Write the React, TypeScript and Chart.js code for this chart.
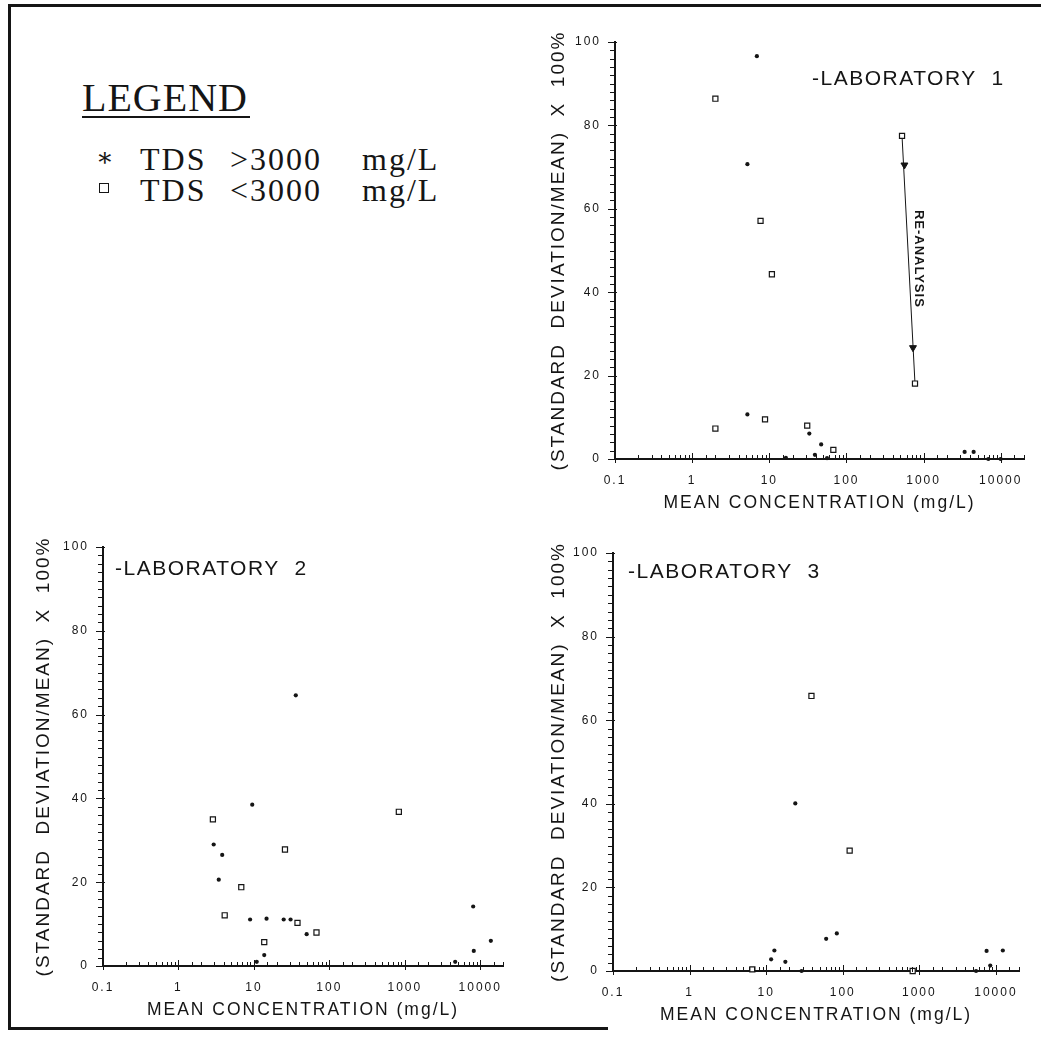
import React, { useEffect, useRef } from 'react';
import { Chart, registerables } from 'chart.js';

Chart.register(...registerables);

// ---------- DATA ----------
// Laboratory 1
const lab1StarX = [6.9, 5.2, 5.2, 33, 47, 39, 16.4, 56, 3400, 4450, 6900, 9950];
const lab1StarY = [96.6, 70.7, 10.7, 6.1, 3.5, 1.0, 0.3, 0.2, 1.7, 1.7, 0, 0];
const lab1SquareX = [2.0, 7.7, 10.8, 2.0, 8.8, 31, 67.6, 525, 773];
const lab1SquareY = [86.4, 57.1, 44.3, 7.3, 9.5, 8.0, 2.2, 77.5, 18.1];
const lab1ReanalysisX = [525, 773];
const lab1ReanalysisY = [77.5, 18.1];
const lab1ArrowX = [564, 728];
const lab1ArrowY = [70.5, 26.7];
const lab1ReanalysisLabel = { x: 860, y: 48, text: 'RE-ANALYSIS' };

// Laboratory 2
const lab2StarX = [9.5, 2.93, 3.8, 3.42, 8.9, 14.7, 24.8, 30.6, 50, 13.7, 10.9, 8050, 8200, 4650, 13800, 35.9];
const lab2StarY = [38.5, 29, 26.5, 20.6, 11.1, 11.3, 11.1, 11.1, 7.6, 2.6, 1.0, 14.2, 3.6, 1.0, 6.0, 64.6];
const lab2SquareX = [6.8, 4.1, 67.5, 833, 2.86, 25.8, 37.8, 13.7];
const lab2SquareY = [18.8, 12.1, 8.0, 36.8, 35, 27.8, 10.3, 5.7];

// Laboratory 3
const lab3StarX = [24, 60.7, 83.6, 12.8, 11.6, 17.8, 29, 7550, 12300, 8430, 5500];
const lab3StarY = [40.1, 7.7, 9.0, 4.9, 2.8, 2.2, 0, 4.8, 4.9, 1.3, 0];
const lab3SquareX = [123, 6.6, 818, 39];
const lab3SquareY = [28.8, 0.4, 0, 65.8];

// Axes
const xMin = 0.1;
const xMax = 20000;
const yMin = 0;
const yMax = 100;
const yStep = 2;
const yLabelEvery = 20;
const xTitle = 'MEAN CONCENTRATION (mg/L)';
const yTitle = '(STANDARD  DEVIATION/MEAN)  X  100%';
const legendTitle = 'LEGEND';
const legendItems = ['TDS >3000 mg/L', 'TDS <3000 mg/L'];

const INK = '#151515';
const SANS = '"Liberation Sans", Arial, sans-serif';
const SERIF = '"Liberation Serif", "DejaVu Serif", serif';
const LS = '2px';

function pts(xs: number[], ys: number[]) {
  return xs.map((x, i) => ({ x, y: ys[i] }));
}

function isPow10(v: number) {
  const l = Math.log10(v);
  return Math.abs(l - Math.round(l)) < 1e-6;
}

type LabProps = {
  left: number;
  top: number;
  width: number;
  height: number;
  padTop: number;
  padRight: number;
  yWidth: number;
  xHeight: number;
  yTitlePad: number;
  title: string;
  titleDx: number;
  titleDy: number;
  starX: number[];
  starY: number[];
  squareX: number[];
  squareY: number[];
  reX?: number[];
  reY?: number[];
  arrowX?: number[];
  arrowY?: number[];
  reLabel?: { x: number; y: number; text: string };
};

function LabChart(p: LabProps) {
  const ref = useRef<HTMLCanvasElement>(null);
  useEffect(() => {
    const canvas = ref.current!;
    const datasets: any[] = [
      {
        label: legendItems[0],
        data: pts(p.starX, p.starY),
        pointStyle: 'circle',
        pointRadius: 2.1,
        backgroundColor: INK,
        borderColor: INK,
        borderWidth: 0,
        clip: false,
      },
      {
        label: legendItems[1],
        data: pts(p.squareX, p.squareY),
        pointStyle: 'rect',
        pointRadius: 3.6,
        backgroundColor: '#ffffff',
        borderColor: INK,
        borderWidth: 1.2,
        clip: false,
      },
    ];
    if (p.arrowX && p.arrowY) {
      datasets.push({
        label: 'arrows',
        data: pts(p.arrowX, p.arrowY),
        pointStyle: 'triangle',
        rotation: 180,
        pointRadius: 4,
        backgroundColor: INK,
        borderColor: INK,
        borderWidth: 1,
        clip: false,
      });
    }
    if (p.reX && p.reY) {
      datasets.push({
        type: 'line',
        label: 'reanalysis',
        data: pts(p.reX, p.reY),
        showLine: true,
        borderColor: INK,
        borderWidth: 1,
        pointRadius: 0,
        fill: false,
        clip: false,
      });
    }

    const spacing = {
      id: 'spacing',
      beforeUpdate(c: any) {
        c.ctx.letterSpacing = LS;
      },
      beforeLayout(c: any) {
        c.ctx.letterSpacing = LS;
      },
      beforeDraw(c: any) {
        c.ctx.letterSpacing = LS;
      },
    };

    const tickMarks = {
      id: 'tickMarks',
      afterDraw(c: any) {
        const { ctx, scales, chartArea } = c;
        ctx.save();
        ctx.strokeStyle = INK;
        ctx.lineWidth = 1;
        ctx.beginPath();
        for (const t of scales.y.ticks) {
          const y = Math.round(scales.y.getPixelForValue(t.value)) + 0.5;
          const major = t.value % yLabelEvery === 0;
          ctx.moveTo(chartArea.left - (major ? 7 : 5), y);
          ctx.lineTo(chartArea.left + (major ? 2 : 0), y);
        }
        for (const t of scales.x.ticks) {
          const x = Math.round(scales.x.getPixelForValue(t.value)) + 0.5;
          const major = isPow10(t.value);
          ctx.moveTo(x, chartArea.bottom + (major ? 4 : 1));
          ctx.lineTo(x, chartArea.bottom - (major ? 6 : 4));
        }
        ctx.stroke();
        ctx.restore();
      },
    };

    const decor = {
      id: 'decor',
      afterDraw(c: any) {
        const { ctx, chartArea, scales } = c;
        ctx.save();
        ctx.fillStyle = INK;
        ctx.letterSpacing = '1.5px';
        ctx.font = `21px ${SANS}`;
        ctx.textBaseline = 'middle';
        ctx.textAlign = 'left';
        ctx.fillText(p.title, chartArea.left + p.titleDx, chartArea.top + p.titleDy);
        if (p.reLabel) {
          const x = scales.x.getPixelForValue(p.reLabel.x);
          const y = scales.y.getPixelForValue(p.reLabel.y);
          ctx.translate(x, y);
          ctx.rotate(Math.PI / 2);
          ctx.font = `bold 13px ${SANS}`;
          ctx.letterSpacing = '1px';
          ctx.textAlign = 'center';
          ctx.textBaseline = 'middle';
          ctx.fillText(p.reLabel.text, 0, 0);
        }
        ctx.restore();
      },
    };

    const chart = new Chart(canvas, {
      type: 'scatter',
      data: { datasets },
      options: {
        animation: false,
        responsive: false,
        maintainAspectRatio: false,
        layout: { padding: { top: p.padTop, right: p.padRight, left: 0, bottom: 0 } },
        plugins: {
          legend: { display: false },
          tooltip: { enabled: false },
        },
        scales: {
          x: {
            type: 'logarithmic',
            position: 'bottom',
            min: xMin,
            max: xMax,
            afterFit(s: any) {
              s.height = p.xHeight;
            },
            ticks: {
              autoSkip: false,
              maxRotation: 0,
              minRotation: 0,
              padding: 14,
              color: INK,
              font: { size: 12, family: SANS },
              callback: (v: any) => {
                const n = Number(v);
                if (!isPow10(n)) return '';
                return n >= 1 ? String(Math.round(n)) : String(n);
              },
            },
            grid: { display: false, drawTicks: false, tickLength: 0 },
            border: { display: true, color: INK, width: 2 },
            title: {
              display: true,
              text: xTitle,
              color: INK,
              font: { size: 17.5, family: SANS },
              padding: { top: 0, bottom: 0 },
            },
          },
          y: {
            type: 'linear',
            position: 'left',
            min: yMin,
            max: yMax,
            afterFit(s: any) {
              s.width = p.yWidth;
            },
            ticks: {
              stepSize: yStep,
              autoSkip: false,
              padding: 14,
              color: INK,
              font: { size: 12, family: SANS },
              callback: (v: any) => (Number(v) % yLabelEvery === 0 ? String(v) : ''),
            },
            grid: { display: false, drawTicks: false, tickLength: 0 },
            border: { display: true, color: INK, width: 2 },
            title: {
              display: true,
              text: yTitle,
              color: INK,
              font: { size: 19, family: SANS },
              padding: { top: p.yTitlePad, bottom: 0 },
            },
          },
        },
      } as any,
      plugins: [spacing, tickMarks, decor],
    });
    return () => chart.destroy();
  }, []);
  return (
    <canvas
      ref={ref}
      width={p.width}
      height={p.height}
      style={{ position: 'absolute', left: p.left, top: p.top, width: p.width, height: p.height }}
    />
  );
}

export default function App() {
  return (
    <div
      style={{
        position: 'absolute',
        left: 0,
        top: 0,
        width: 1041,
        height: 1050,
        background: '#ffffff',
        overflow: 'hidden',
      }}
    >
      {/* frame */}
      <div style={{ position: 'absolute', left: 8, top: 4, width: 1040, height: 3, background: INK }} />
      <div style={{ position: 'absolute', left: 8, top: 4, width: 3, height: 1026, background: INK }} />
      <div style={{ position: 'absolute', left: 8, top: 1027, width: 600, height: 3, background: INK }} />

      {/* legend */}
      <div
        style={{
          position: 'absolute',
          left: 82,
          top: 78,
          font: `40px ${SERIF}`,
          lineHeight: '40px',
          letterSpacing: '1px',
          color: INK,
          whiteSpace: 'pre',
        }}
      >
        {legendTitle}
      </div>
      <div style={{ position: 'absolute', left: 82, top: 116, width: 168, height: 2, background: INK }} />
      <div
        style={{
          position: 'absolute',
          left: 96,
          top: 145,
          font: `26px ${SERIF}`,
          lineHeight: '26px',
          color: INK,
        }}
      >
        ∗
      </div>
      <div
        style={{
          position: 'absolute',
          left: 99,
          top: 183,
          width: 8,
          height: 8,
          border: `1.3px solid ${INK}`,
        }}
      />
      {legendItems.map((t, i) => {
        const parts = t.split(' ');
        const xs = [140, 230, 362];
        return parts.map((w, j) => (
          <div
            key={`${i}-${j}`}
            style={{
              position: 'absolute',
              left: xs[j],
              top: 143 + i * 31,
              font: `32px ${SERIF}`,
              lineHeight: '32px',
              letterSpacing: '2px',
              color: INK,
              whiteSpace: 'pre',
            }}
          >
            {w}
          </div>
        ));
      })}

      <LabChart
        left={520}
        top={20}
        width={518}
        height={494}
        padTop={22}
        padRight={12}
        yWidth={95}
        xHeight={55}
        yTitlePad={27}
        title={'-LABORATORY  1'}
        titleDx={197}
        titleDy={37}
        starX={lab1StarX}
        starY={lab1StarY}
        squareX={lab1SquareX}
        squareY={lab1SquareY}
        reX={lab1ReanalysisX}
        reY={lab1ReanalysisY}
        arrowX={lab1ArrowX}
        arrowY={lab1ArrowY}
        reLabel={lab1ReanalysisLabel}
      />
      <LabChart
        left={10}
        top={525}
        width={507}
        height={496}
        padTop={22}
        padRight={8}
        yWidth={93}
        xHeight={55}
        yTitlePad={22}
        title={'-LABORATORY  2'}
        titleDx={12}
        titleDy={22}
        starX={lab2StarX}
        starY={lab2StarY}
        squareX={lab2SquareX}
        squareY={lab2SquareY}
      />
      <LabChart
        left={518}
        top={531}
        width={515}
        height={495}
        padTop={22}
        padRight={12}
        yWidth={95}
        xHeight={55}
        yTitlePad={29}
        title={'-LABORATORY  3'}
        titleDx={15}
        titleDy={19}
        starX={lab3StarX}
        starY={lab3StarY}
        squareX={lab3SquareX}
        squareY={lab3SquareY}
      />
    </div>
  );
}
